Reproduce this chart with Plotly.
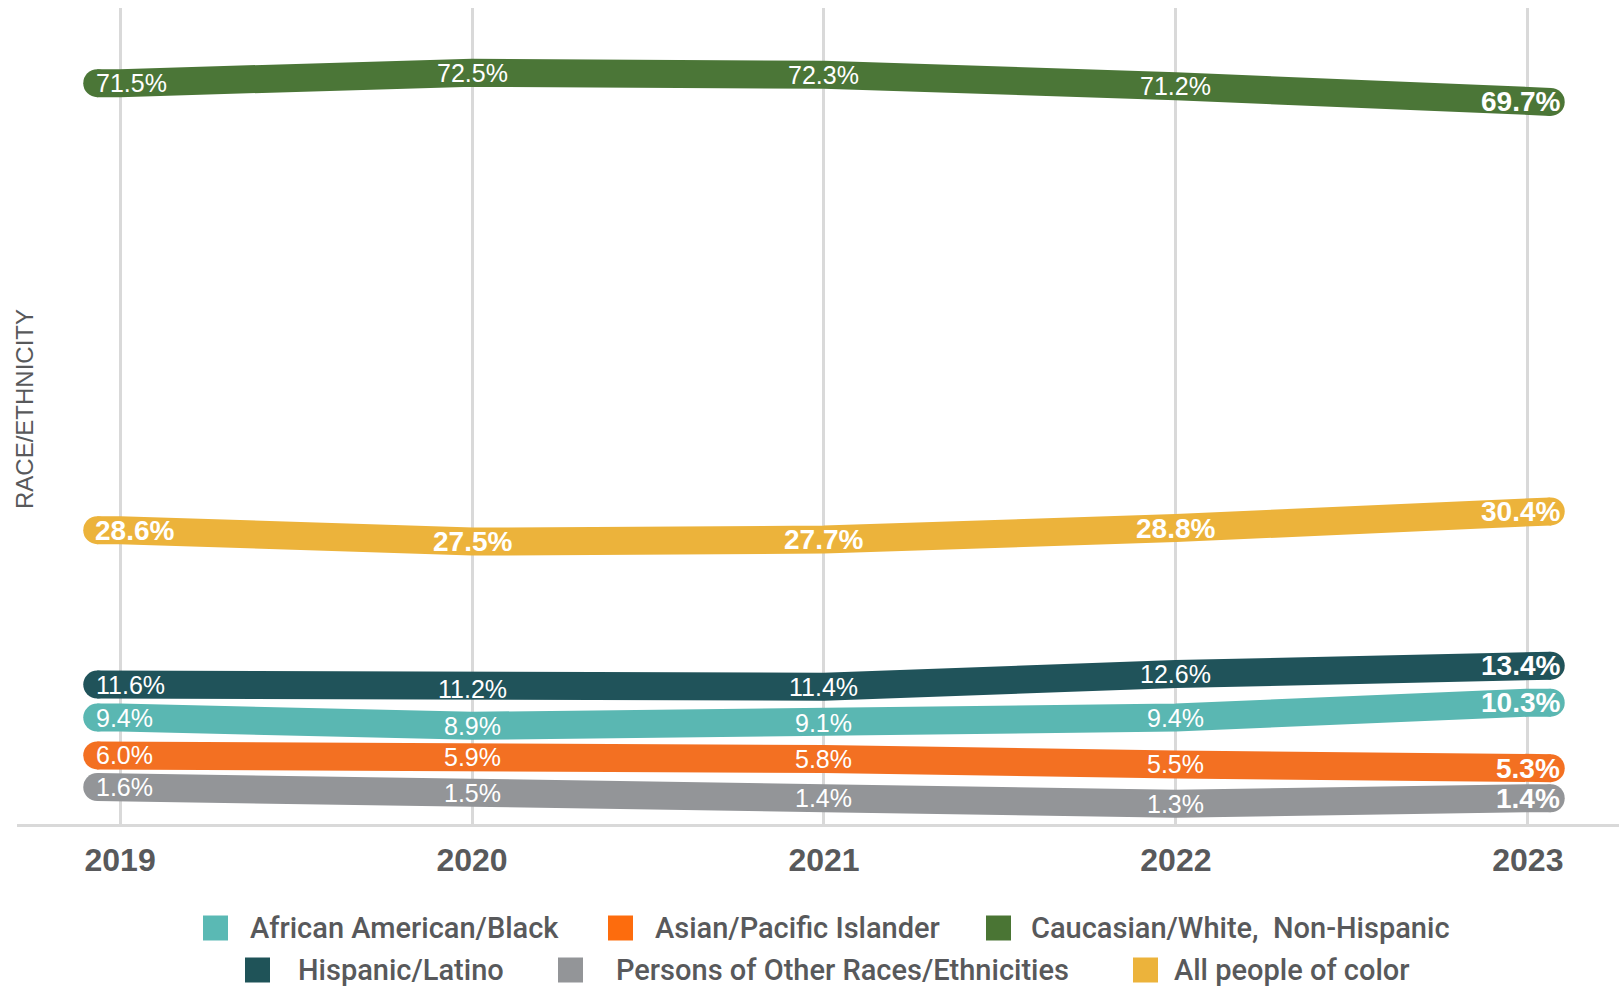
import plotly.graph_objects as go

# ---- data -------------------------------------------------------------
years = [2019, 2020, 2021, 2022, 2023]
year_labels = ["2019", "2020", "2021", "2022", "2023"]

caucasian = [71.5, 72.5, 72.3, 71.2, 69.7]
people_of_color = [28.6, 27.5, 27.7, 28.8, 30.4]
hispanic = [11.6, 11.2, 11.4, 12.6, 13.4]
african_american = [9.4, 8.9, 9.1, 9.4, 10.3]
asian = [6.0, 5.9, 5.8, 5.5, 5.3]
other_races = [1.6, 1.5, 1.4, 1.3, 1.4]

# ---- page geometry ----------------------------------------------------
W, H = 1619, 987
ML, MR, MT, MB = 17, 0, 8, 163
PW, PH = W - ML - MR, H - MT - MB


def to_paper(px, py):
    return (px - ML) / PW, (H - MB - py) / PH


TEXT_GREY = "#58595b"
GRID = "#d9d9d9"
BAND = 28          # stroke width of each series band
PAD = 0.065        # band overhang past the first / last year (in years)

series = [
    dict(name="Caucasian/White, Non-Hispanic", values=caucasian,
         color="#4b7637", axis="y", bold=False),
    dict(name="All people of color", values=people_of_color,
         color="#ecb33b", axis="y", bold=True),
    dict(name="Hispanic/Latino", values=hispanic,
         color="#20535a", axis="y2", bold=False),
    dict(name="African American/Black", values=african_american,
         color="#5ab7b2", axis="y3", bold=False),
    dict(name="Asian/Pacific Islander", values=asian,
         color="#f37022", axis="y4", bold=False),
    dict(name="Persons of Other Races/Ethnicities", values=other_races,
         color="#939598", axis="y5", bold=False),
]

# each band group is drawn on its own scale so the bands stack without overlap
axis_ranges = {
    "y": [0.40, 78.71],
    "y2": [-1.68, 76.03],
    "y3": [2.95, 52.40],
    "y4": [2.23, 47.07],
    "y5": [0.94, 15.51],
}

fig = go.Figure()

for s in series:
    v = s["values"]
    xs = [years[0] - PAD] + years + [years[-1] + PAD]
    ys = [v[0]] + v + [v[-1]]
    fig.add_trace(go.Scatter(
        x=xs, y=ys, yaxis=s["axis"], mode="lines", name=s["name"],
        line=dict(color=s["color"], width=BAND),
        hoverinfo="skip", showlegend=False,
    ))
    # rounded ends of the band
    fig.add_trace(go.Scatter(
        x=[xs[0], xs[-1]], y=[v[0], v[-1]], yaxis=s["axis"], mode="markers",
        marker=dict(size=BAND, color=s["color"], line=dict(width=0)),
        hoverinfo="skip", showlegend=False,
    ))

# value labels inside the bands
for s in series:
    n = len(years)
    for i, (yr, val) in enumerate(zip(years, s["values"])):
        first, last = i == 0, i == n - 1
        bold = s["bold"] or last
        if first:
            x, xa, xs_ = yr - PAD, "left", -4 if bold else -3
        elif last:
            x, xa, xs_ = yr + PAD, "right", 11
        else:
            x, xa, xs_ = yr, "center", 0
        txt = f"{val:.1f}%"
        fig.add_annotation(
            x=x, y=val, xref="x", yref=s["axis"],
            text=f"<b>{txt}</b>" if bold else txt,
            showarrow=False, xanchor=xa, yanchor="middle", xshift=xs_,
            font=dict(family="Liberation Sans, Arial, sans-serif",
                      size=28 if bold else 25, color="white"),
        )

# y-axis title
tx, ty = to_paper(24, 409)
fig.add_annotation(
    x=tx, y=ty, xref="paper", yref="paper", text="RACE/ETHNICITY",
    textangle=-90, showarrow=False, xanchor="center", yanchor="middle",
    font=dict(family="Liberation Sans, Arial, sans-serif", size=24,
              color=TEXT_GREY),
)

# legend: two centred rows of square swatches
legend_rows = [
    (928, [("African American/Black", "#5ab9b4", 203, 248),
           ("Asian/Pacific Islander", "#fd6c0d", 608, 653),
           ("Caucasian/White,\u00a0 Non-Hispanic", "#4a7534", 986, 1029)]),
    (970, [("Hispanic/Latino", "#1f5358", 245, 296),
           ("Persons of Other Races/Ethnicities", "#939598", 558, 614),
           ("All people of color", "#ecb33b", 1133, 1172)]),
]
SW = 25
for cy, items in legend_rows:
    for label, col, sx, tx_ in items:
        x0, y0 = to_paper(sx, cy + SW / 2)
        x1, y1 = to_paper(sx + SW, cy - SW / 2)
        fig.add_shape(type="rect", xref="paper", yref="paper",
                      x0=x0, x1=x1, y0=y0, y1=y1,
                      fillcolor=col, line=dict(width=0))
        lx, ly = to_paper(tx_, cy)
        fig.add_annotation(
            x=lx, y=ly, xref="paper", yref="paper", text=label,
            showarrow=False, xanchor="left", yanchor="middle",
            font=dict(family="Roboto, Liberation Sans, sans-serif",
                      size=29, color=TEXT_GREY, weight=500),
        )

layout_axes = {}
for key in ["y", "y2", "y3", "y4", "y5"]:
    name = "yaxis" if key == "y" else "yaxis" + key[1:]
    ax = dict(range=axis_ranges[key], visible=False, showgrid=False,
              zeroline=False, fixedrange=True)
    if key != "y":
        ax.update(overlaying="y", anchor="x")
    layout_axes[name] = ax

fig.update_layout(
    width=W, height=H,
    margin=dict(l=ML, r=MR, t=MT, b=MB),
    paper_bgcolor="white", plot_bgcolor="white",
    showlegend=False,
    xaxis=dict(
        range=[2018.707, 2023.259], tickvals=years, ticktext=year_labels,
        showgrid=True, gridcolor=GRID, gridwidth=3,
        showline=True, linecolor=GRID, linewidth=3,
        zeroline=False, ticks="outside", ticklen=6,
        tickcolor="rgba(0,0,0,0)",
        tickfont=dict(family="Liberation Sans, Arial, sans-serif", size=32,
                      color=TEXT_GREY, weight="bold"),
        fixedrange=True,
    ),
    **layout_axes,
)

fig.write_html("out.html")
